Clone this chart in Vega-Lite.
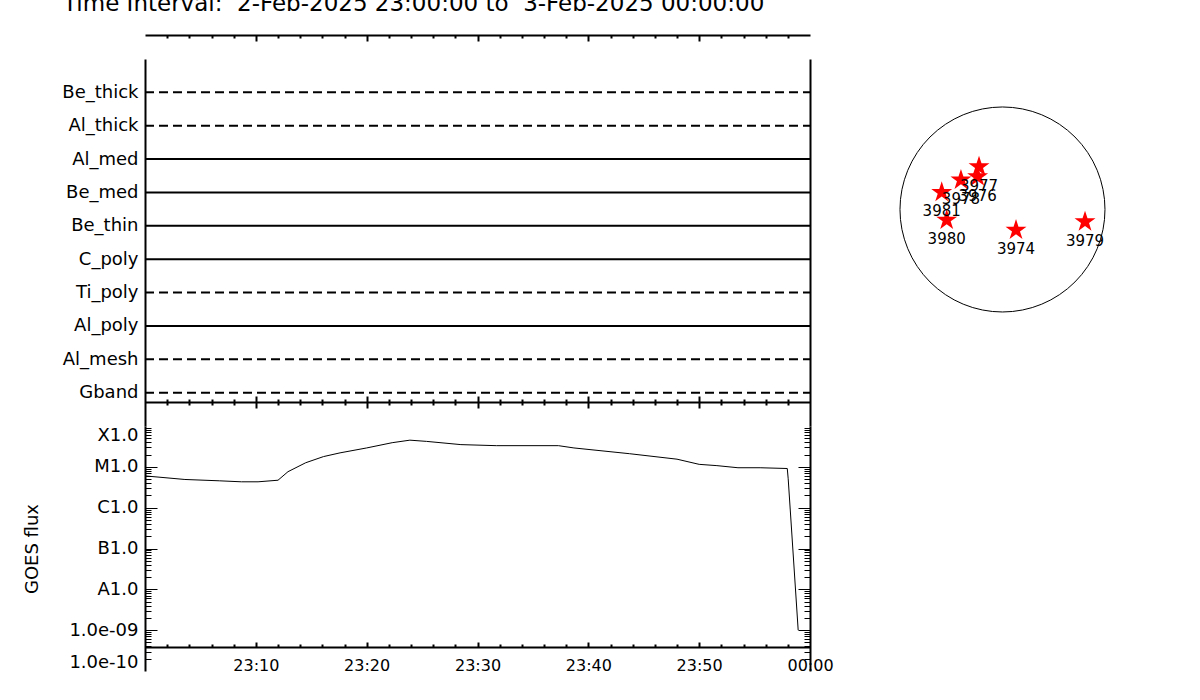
{
  "$schema": "https://vega.github.io/schema/vega-lite/v6.json",
  "background": "white",
  "width": 1200,
  "height": 700,
  "autosize": {"type": "fit", "contains": "padding"},
  "padding": {"left": 0, "right": 0, "top": 5, "bottom": 0},
  "title": {"text": "Time Interval:\u00a0 2-Feb-2025 23:00:00 to\u00a0 3-Feb-2025 00:00:00", "anchor": "start", "frame": "group", "fontSize": 23, "font": "DejaVu Sans", "fontWeight": "normal", "color": "black", "baseline": "alphabetic", "offset": 0, "dx": 63},
  "config": {
    "view": {"stroke": null},
    "font": "DejaVu Sans",
    "axis": {"labelColor": "black", "titleColor": "black", "tickColor": "black", "domainColor": "black", "domainWidth": 2, "grid": false, "labelFont": "DejaVu Sans", "titleFont": "DejaVu Sans", "titleFontWeight": "normal", "tickWidth": 2}
  },
  "datasets": {
    "filters": [
      {"filter": "Be_thick", "line": "dashed", "start": "2025-02-02T23:00:00", "end": "2025-02-03T00:00:00"},
      {"filter": "Al_thick", "line": "dashed", "start": "2025-02-02T23:00:00", "end": "2025-02-03T00:00:00"},
      {"filter": "Al_med", "line": "solid", "start": "2025-02-02T23:00:00", "end": "2025-02-03T00:00:00"},
      {"filter": "Be_med", "line": "solid", "start": "2025-02-02T23:00:00", "end": "2025-02-03T00:00:00"},
      {"filter": "Be_thin", "line": "solid", "start": "2025-02-02T23:00:00", "end": "2025-02-03T00:00:00"},
      {"filter": "C_poly", "line": "solid", "start": "2025-02-02T23:00:00", "end": "2025-02-03T00:00:00"},
      {"filter": "Ti_poly", "line": "dashed", "start": "2025-02-02T23:00:00", "end": "2025-02-03T00:00:00"},
      {"filter": "Al_poly", "line": "solid", "start": "2025-02-02T23:00:00", "end": "2025-02-03T00:00:00"},
      {"filter": "Al_mesh", "line": "dashed", "start": "2025-02-02T23:00:00", "end": "2025-02-03T00:00:00"},
      {"filter": "Gband", "line": "dashed", "start": "2025-02-02T23:00:00", "end": "2025-02-03T00:00:00"}
    ],
    "goes": [
      {"time": "2025-02-02T23:00:00", "flux": 6.0e-6},
      {"time": "2025-02-02T23:03:36", "flux": 4.9e-6},
      {"time": "2025-02-02T23:06:42", "flux": 4.55e-6},
      {"time": "2025-02-02T23:08:42", "flux": 4.3e-6},
      {"time": "2025-02-02T23:10:12", "flux": 4.3e-6},
      {"time": "2025-02-02T23:12:00", "flux": 4.7e-6},
      {"time": "2025-02-02T23:12:54", "flux": 7.6e-6},
      {"time": "2025-02-02T23:14:30", "flux": 1.26e-5},
      {"time": "2025-02-02T23:16:06", "flux": 1.78e-5},
      {"time": "2025-02-02T23:17:36", "flux": 2.2e-5},
      {"time": "2025-02-02T23:20:00", "flux": 2.9e-5},
      {"time": "2025-02-02T23:22:18", "flux": 3.9e-5},
      {"time": "2025-02-02T23:23:54", "flux": 4.5e-5},
      {"time": "2025-02-02T23:25:24", "flux": 4.2e-5},
      {"time": "2025-02-02T23:28:30", "flux": 3.5e-5},
      {"time": "2025-02-02T23:31:42", "flux": 3.3e-5},
      {"time": "2025-02-02T23:37:18", "flux": 3.3e-5},
      {"time": "2025-02-02T23:38:42", "flux": 2.9e-5},
      {"time": "2025-02-02T23:43:42", "flux": 2.1e-5},
      {"time": "2025-02-02T23:48:00", "flux": 1.54e-5},
      {"time": "2025-02-02T23:50:00", "flux": 1.15e-5},
      {"time": "2025-02-02T23:51:36", "flux": 1.07e-5},
      {"time": "2025-02-02T23:53:30", "flux": 9.5e-6},
      {"time": "2025-02-02T23:55:30", "flux": 9.5e-6},
      {"time": "2025-02-02T23:57:57", "flux": 9.1e-6},
      {"time": "2025-02-02T23:58:02", "flux": 5.1e-6},
      {"time": "2025-02-02T23:58:56", "flux": 1.0e-9}
    ],
    "regions": [
      {"noaa": "3977", "x": -222, "y": 415},
      {"noaa": "3976", "x": -235, "y": 320},
      {"noaa": "3978", "x": -393, "y": 289},
      {"noaa": "3981", "x": -575, "y": 172},
      {"noaa": "3980", "x": -528, "y": -90},
      {"noaa": "3974", "x": 128, "y": -185},
      {"noaa": "3979", "x": 781, "y": -106}
    ],
    "disk": [{"x": 0, "y": 0}]
  },
  "resolve": {"scale": {"x": "independent", "y": "independent", "strokeDash": "independent"}, "axis": {"x": "independent", "y": "independent"}},
  "layer": [
    {
      "data": {"name": "filters"},
      "mark": {"type": "rule", "strokeWidth": 2, "color": "black"},
      "encoding": {
        "y": {"field": "filter", "type": "nominal", "sort": null, "scale": {"type": "point", "padding": 1, "range": [13, 380]}, "axis": {"orient": "left", "offset": -145, "title": null, "ticks": false, "domain": true, "labelFontSize": 18, "labelPadding": 7}},
        "x": {"field": "start", "type": "temporal", "scale": {"domain": [{"year": 2025, "month": 2, "date": 2, "hours": 23, "minutes": 0}, {"year": 2025, "month": 2, "date": 3, "hours": 0, "minutes": 0}], "range": [145, 810]}, "axis": {"orient": "bottom", "offset": -665, "title": null, "labels": false, "domain": true, "tickSize": 6,
          "values": [{"year": 2025, "month": 2, "date": 2, "hours": 23, "minutes": 10}, {"year": 2025, "month": 2, "date": 2, "hours": 23, "minutes": 20}, {"year": 2025, "month": 2, "date": 2, "hours": 23, "minutes": 30}, {"year": 2025, "month": 2, "date": 2, "hours": 23, "minutes": 40}, {"year": 2025, "month": 2, "date": 2, "hours": 23, "minutes": 50}]}},
        "x2": {"field": "end"},
        "strokeDash": {"field": "line", "type": "nominal", "scale": {"domain": ["solid", "dashed"], "range": [[1, 0], [9, 5]]}, "legend": null}
      }
    },
    {
      "data": {"name": "filters"},
      "mark": {"type": "rule", "opacity": 0},
      "encoding": {
        "y": {"field": "filter", "type": "nominal", "sort": null, "scale": {"type": "point", "padding": 1, "range": [13, 380]}, "axis": {"orient": "right", "offset": -390, "title": null, "ticks": false, "labels": false, "domain": true}},
        "x": {"field": "start", "type": "temporal", "scale": {"domain": [{"year": 2025, "month": 2, "date": 2, "hours": 23, "minutes": 0}, {"year": 2025, "month": 2, "date": 3, "hours": 0, "minutes": 0}], "range": [145, 810]}, "axis": {"orient": "bottom", "offset": -665, "title": null, "labels": false, "domain": false, "tickSize": 3,
          "values": [{"year": 2025, "month": 2, "date": 2, "hours": 23, "minutes": 2}, {"year": 2025, "month": 2, "date": 2, "hours": 23, "minutes": 4}, {"year": 2025, "month": 2, "date": 2, "hours": 23, "minutes": 6}, {"year": 2025, "month": 2, "date": 2, "hours": 23, "minutes": 8}, {"year": 2025, "month": 2, "date": 2, "hours": 23, "minutes": 12}, {"year": 2025, "month": 2, "date": 2, "hours": 23, "minutes": 14}, {"year": 2025, "month": 2, "date": 2, "hours": 23, "minutes": 16}, {"year": 2025, "month": 2, "date": 2, "hours": 23, "minutes": 18}, {"year": 2025, "month": 2, "date": 2, "hours": 23, "minutes": 22}, {"year": 2025, "month": 2, "date": 2, "hours": 23, "minutes": 24}, {"year": 2025, "month": 2, "date": 2, "hours": 23, "minutes": 26}, {"year": 2025, "month": 2, "date": 2, "hours": 23, "minutes": 28}, {"year": 2025, "month": 2, "date": 2, "hours": 23, "minutes": 32}, {"year": 2025, "month": 2, "date": 2, "hours": 23, "minutes": 34}, {"year": 2025, "month": 2, "date": 2, "hours": 23, "minutes": 36}, {"year": 2025, "month": 2, "date": 2, "hours": 23, "minutes": 38}, {"year": 2025, "month": 2, "date": 2, "hours": 23, "minutes": 42}, {"year": 2025, "month": 2, "date": 2, "hours": 23, "minutes": 44}, {"year": 2025, "month": 2, "date": 2, "hours": 23, "minutes": 46}, {"year": 2025, "month": 2, "date": 2, "hours": 23, "minutes": 48}, {"year": 2025, "month": 2, "date": 2, "hours": 23, "minutes": 52}, {"year": 2025, "month": 2, "date": 2, "hours": 23, "minutes": 54}, {"year": 2025, "month": 2, "date": 2, "hours": 23, "minutes": 56}, {"year": 2025, "month": 2, "date": 2, "hours": 23, "minutes": 58}]}},
        "x2": {"field": "end"}
      }
    },
    {
      "data": {"name": "filters"},
      "mark": {"type": "rule", "opacity": 0},
      "encoding": {
        "x": {"field": "start", "type": "temporal", "scale": {"domain": [{"year": 2025, "month": 2, "date": 2, "hours": 23, "minutes": 0}, {"year": 2025, "month": 2, "date": 3, "hours": 0, "minutes": 0}], "range": [145, 810]}, "axis": {"orient": "bottom", "offset": -304, "title": null, "labels": false, "domain": false, "tickSize": 6,
          "values": [{"year": 2025, "month": 2, "date": 2, "hours": 23, "minutes": 10}, {"year": 2025, "month": 2, "date": 2, "hours": 23, "minutes": 20}, {"year": 2025, "month": 2, "date": 2, "hours": 23, "minutes": 30}, {"year": 2025, "month": 2, "date": 2, "hours": 23, "minutes": 40}, {"year": 2025, "month": 2, "date": 2, "hours": 23, "minutes": 50}]}}
      }
    },
    {
      "data": {"name": "filters"},
      "mark": {"type": "rule", "opacity": 0},
      "encoding": {
        "x": {"field": "start", "type": "temporal", "scale": {"domain": [{"year": 2025, "month": 2, "date": 2, "hours": 23, "minutes": 0}, {"year": 2025, "month": 2, "date": 3, "hours": 0, "minutes": 0}], "range": [145, 810]}, "axis": {"orient": "bottom", "offset": -301, "title": null, "labels": false, "domain": false, "tickSize": 3,
          "values": [{"year": 2025, "month": 2, "date": 2, "hours": 23, "minutes": 2}, {"year": 2025, "month": 2, "date": 2, "hours": 23, "minutes": 4}, {"year": 2025, "month": 2, "date": 2, "hours": 23, "minutes": 6}, {"year": 2025, "month": 2, "date": 2, "hours": 23, "minutes": 8}, {"year": 2025, "month": 2, "date": 2, "hours": 23, "minutes": 12}, {"year": 2025, "month": 2, "date": 2, "hours": 23, "minutes": 14}, {"year": 2025, "month": 2, "date": 2, "hours": 23, "minutes": 16}, {"year": 2025, "month": 2, "date": 2, "hours": 23, "minutes": 18}, {"year": 2025, "month": 2, "date": 2, "hours": 23, "minutes": 22}, {"year": 2025, "month": 2, "date": 2, "hours": 23, "minutes": 24}, {"year": 2025, "month": 2, "date": 2, "hours": 23, "minutes": 26}, {"year": 2025, "month": 2, "date": 2, "hours": 23, "minutes": 28}, {"year": 2025, "month": 2, "date": 2, "hours": 23, "minutes": 32}, {"year": 2025, "month": 2, "date": 2, "hours": 23, "minutes": 34}, {"year": 2025, "month": 2, "date": 2, "hours": 23, "minutes": 36}, {"year": 2025, "month": 2, "date": 2, "hours": 23, "minutes": 38}, {"year": 2025, "month": 2, "date": 2, "hours": 23, "minutes": 42}, {"year": 2025, "month": 2, "date": 2, "hours": 23, "minutes": 44}, {"year": 2025, "month": 2, "date": 2, "hours": 23, "minutes": 46}, {"year": 2025, "month": 2, "date": 2, "hours": 23, "minutes": 48}, {"year": 2025, "month": 2, "date": 2, "hours": 23, "minutes": 52}, {"year": 2025, "month": 2, "date": 2, "hours": 23, "minutes": 54}, {"year": 2025, "month": 2, "date": 2, "hours": 23, "minutes": 56}, {"year": 2025, "month": 2, "date": 2, "hours": 23, "minutes": 58}]}}
      }
    },
    {
      "data": {"name": "filters"},
      "mark": {"type": "rule", "opacity": 0},
      "encoding": {
        "x": {"field": "start", "type": "temporal", "scale": {"domain": [{"year": 2025, "month": 2, "date": 2, "hours": 23, "minutes": 0}, {"year": 2025, "month": 2, "date": 3, "hours": 0, "minutes": 0}], "range": [145, 810]}, "axis": {"orient": "bottom", "offset": -298, "title": null, "labels": false, "domain": true, "tickSize": 6,
          "values": [{"year": 2025, "month": 2, "date": 2, "hours": 23, "minutes": 10}, {"year": 2025, "month": 2, "date": 2, "hours": 23, "minutes": 20}, {"year": 2025, "month": 2, "date": 2, "hours": 23, "minutes": 30}, {"year": 2025, "month": 2, "date": 2, "hours": 23, "minutes": 40}, {"year": 2025, "month": 2, "date": 2, "hours": 23, "minutes": 50}]}}
      }
    },
    {
      "data": {"name": "filters"},
      "mark": {"type": "rule", "opacity": 0},
      "encoding": {
        "x": {"field": "start", "type": "temporal", "scale": {"domain": [{"year": 2025, "month": 2, "date": 2, "hours": 23, "minutes": 0}, {"year": 2025, "month": 2, "date": 3, "hours": 0, "minutes": 0}], "range": [145, 810]}, "axis": {"orient": "bottom", "offset": -298, "title": null, "labels": false, "domain": false, "tickSize": 3,
          "values": [{"year": 2025, "month": 2, "date": 2, "hours": 23, "minutes": 2}, {"year": 2025, "month": 2, "date": 2, "hours": 23, "minutes": 4}, {"year": 2025, "month": 2, "date": 2, "hours": 23, "minutes": 6}, {"year": 2025, "month": 2, "date": 2, "hours": 23, "minutes": 8}, {"year": 2025, "month": 2, "date": 2, "hours": 23, "minutes": 12}, {"year": 2025, "month": 2, "date": 2, "hours": 23, "minutes": 14}, {"year": 2025, "month": 2, "date": 2, "hours": 23, "minutes": 16}, {"year": 2025, "month": 2, "date": 2, "hours": 23, "minutes": 18}, {"year": 2025, "month": 2, "date": 2, "hours": 23, "minutes": 22}, {"year": 2025, "month": 2, "date": 2, "hours": 23, "minutes": 24}, {"year": 2025, "month": 2, "date": 2, "hours": 23, "minutes": 26}, {"year": 2025, "month": 2, "date": 2, "hours": 23, "minutes": 28}, {"year": 2025, "month": 2, "date": 2, "hours": 23, "minutes": 32}, {"year": 2025, "month": 2, "date": 2, "hours": 23, "minutes": 34}, {"year": 2025, "month": 2, "date": 2, "hours": 23, "minutes": 36}, {"year": 2025, "month": 2, "date": 2, "hours": 23, "minutes": 38}, {"year": 2025, "month": 2, "date": 2, "hours": 23, "minutes": 42}, {"year": 2025, "month": 2, "date": 2, "hours": 23, "minutes": 44}, {"year": 2025, "month": 2, "date": 2, "hours": 23, "minutes": 46}, {"year": 2025, "month": 2, "date": 2, "hours": 23, "minutes": 48}, {"year": 2025, "month": 2, "date": 2, "hours": 23, "minutes": 52}, {"year": 2025, "month": 2, "date": 2, "hours": 23, "minutes": 54}, {"year": 2025, "month": 2, "date": 2, "hours": 23, "minutes": 56}, {"year": 2025, "month": 2, "date": 2, "hours": 23, "minutes": 58}]}}
      }
    },
    {
      "data": {"name": "goes"},
      "mark": {"type": "line", "color": "black", "strokeWidth": 1},
      "encoding": {
        "x": {"field": "time", "type": "temporal", "scale": {"domain": [{"year": 2025, "month": 2, "date": 2, "hours": 23, "minutes": 0}, {"year": 2025, "month": 2, "date": 3, "hours": 0, "minutes": 0}], "range": [145, 810]}, "axis": {"orient": "bottom", "offset": -53, "title": null, "domain": true, "ticks": false, "format": "%H:%M", "labelFlush": false, "labelOverlap": false, "labelBound": false, "labelFontSize": 16, "labelPadding": 10,
          "values": [{"year": 2025, "month": 2, "date": 2, "hours": 23, "minutes": 10}, {"year": 2025, "month": 2, "date": 2, "hours": 23, "minutes": 20}, {"year": 2025, "month": 2, "date": 2, "hours": 23, "minutes": 30}, {"year": 2025, "month": 2, "date": 2, "hours": 23, "minutes": 40}, {"year": 2025, "month": 2, "date": 2, "hours": 23, "minutes": 50}, {"year": 2025, "month": 2, "date": 3, "hours": 0, "minutes": 0}]}},
        "y": {"field": "flux", "type": "quantitative", "scale": {"type": "log", "domain": [1e-10, 1e-4], "range": [625, 380], "nice": false}, "axis": {"orient": "left", "offset": -145, "domain": true, "ticks": false, "title": "GOES flux", "titleFontSize": 18, "titleX": -104, "titleY": 502.5, "titleAngle": 270, "titleBaseline": "bottom", "titleAlign": "center", "labelFontSize": 18, "labelPadding": 7, "labelFlush": true, "labelOverlap": false,
          "values": [1e-10, 1e-9, 1e-8, 1e-7, 1e-6, 1e-5, 1e-4],
          "labelExpr": "datum.value > 5e-5 ? 'X1.0' : datum.value > 5e-6 ? 'M1.0' : datum.value > 5e-7 ? 'C1.0' : datum.value > 5e-8 ? 'B1.0' : datum.value > 5e-9 ? 'A1.0' : datum.value > 5e-10 ? '1.0e-09' : '1.0e-10'"}}
      }
    },
    {
      "data": {"name": "goes"},
      "mark": {"type": "line", "opacity": 0},
      "encoding": {
        "x": {"field": "time", "type": "temporal", "scale": {"domain": [{"year": 2025, "month": 2, "date": 2, "hours": 23, "minutes": 0}, {"year": 2025, "month": 2, "date": 3, "hours": 0, "minutes": 0}], "range": [145, 810]}, "axis": {"orient": "bottom", "offset": -58, "title": null, "labels": false, "domain": false, "tickSize": 5,
          "values": [{"year": 2025, "month": 2, "date": 2, "hours": 23, "minutes": 10}, {"year": 2025, "month": 2, "date": 2, "hours": 23, "minutes": 20}, {"year": 2025, "month": 2, "date": 2, "hours": 23, "minutes": 30}, {"year": 2025, "month": 2, "date": 2, "hours": 23, "minutes": 40}, {"year": 2025, "month": 2, "date": 2, "hours": 23, "minutes": 50}]}},
        "y": {"field": "flux", "type": "quantitative", "scale": {"type": "log", "domain": [1e-10, 1e-4], "range": [625, 380], "nice": false}, "axis": {"orient": "left", "offset": -157, "title": null, "labels": false, "domain": false, "tickSize": 12, "tickWidth": 1, "values": [1e-9, 1e-8, 1e-7, 1e-6, 1e-5]}}
      }
    },
    {
      "data": {"name": "goes"},
      "mark": {"type": "line", "opacity": 0},
      "encoding": {
        "x": {"field": "time", "type": "temporal", "scale": {"domain": [{"year": 2025, "month": 2, "date": 2, "hours": 23, "minutes": 0}, {"year": 2025, "month": 2, "date": 3, "hours": 0, "minutes": 0}], "range": [145, 810]}, "axis": {"orient": "bottom", "offset": -56, "title": null, "labels": false, "domain": false, "tickSize": 3,
          "values": [{"year": 2025, "month": 2, "date": 2, "hours": 23, "minutes": 2}, {"year": 2025, "month": 2, "date": 2, "hours": 23, "minutes": 4}, {"year": 2025, "month": 2, "date": 2, "hours": 23, "minutes": 6}, {"year": 2025, "month": 2, "date": 2, "hours": 23, "minutes": 8}, {"year": 2025, "month": 2, "date": 2, "hours": 23, "minutes": 12}, {"year": 2025, "month": 2, "date": 2, "hours": 23, "minutes": 14}, {"year": 2025, "month": 2, "date": 2, "hours": 23, "minutes": 16}, {"year": 2025, "month": 2, "date": 2, "hours": 23, "minutes": 18}, {"year": 2025, "month": 2, "date": 2, "hours": 23, "minutes": 22}, {"year": 2025, "month": 2, "date": 2, "hours": 23, "minutes": 24}, {"year": 2025, "month": 2, "date": 2, "hours": 23, "minutes": 26}, {"year": 2025, "month": 2, "date": 2, "hours": 23, "minutes": 28}, {"year": 2025, "month": 2, "date": 2, "hours": 23, "minutes": 32}, {"year": 2025, "month": 2, "date": 2, "hours": 23, "minutes": 34}, {"year": 2025, "month": 2, "date": 2, "hours": 23, "minutes": 36}, {"year": 2025, "month": 2, "date": 2, "hours": 23, "minutes": 38}, {"year": 2025, "month": 2, "date": 2, "hours": 23, "minutes": 42}, {"year": 2025, "month": 2, "date": 2, "hours": 23, "minutes": 44}, {"year": 2025, "month": 2, "date": 2, "hours": 23, "minutes": 46}, {"year": 2025, "month": 2, "date": 2, "hours": 23, "minutes": 48}, {"year": 2025, "month": 2, "date": 2, "hours": 23, "minutes": 52}, {"year": 2025, "month": 2, "date": 2, "hours": 23, "minutes": 54}, {"year": 2025, "month": 2, "date": 2, "hours": 23, "minutes": 56}, {"year": 2025, "month": 2, "date": 2, "hours": 23, "minutes": 58}]}},
        "y": {"field": "flux", "type": "quantitative", "scale": {"type": "log", "domain": [1e-10, 1e-4], "range": [625, 380], "nice": false}, "axis": {"orient": "left", "offset": -151, "title": null, "labels": false, "domain": false, "tickSize": 6, "tickWidth": 1,
          "values": [2e-10, 3e-10, 4e-10, 5e-10, 6e-10, 7e-10, 8e-10, 9e-10, 2e-9, 3e-9, 4e-9, 5e-9, 6e-9, 7e-9, 8e-9, 9e-9, 2e-8, 3e-8, 4e-8, 5e-8, 6e-8, 7e-8, 8e-8, 9e-8, 2e-7, 3e-7, 4e-7, 5e-7, 6e-7, 7e-7, 8e-7, 9e-7, 2e-6, 3e-6, 4e-6, 5e-6, 6e-6, 7e-6, 8e-6, 9e-6, 2e-5, 3e-5, 4e-5, 5e-5, 6e-5, 7e-5, 8e-5, 9e-5]}}
      }
    },
    {
      "data": {"name": "goes"},
      "mark": {"type": "line", "opacity": 0},
      "encoding": {
        "x": {"field": "time", "type": "temporal", "scale": {"domain": [{"year": 2025, "month": 2, "date": 2, "hours": 23, "minutes": 0}, {"year": 2025, "month": 2, "date": 3, "hours": 0, "minutes": 0}], "range": [145, 810]}, "axis": null},
        "y": {"field": "flux", "type": "quantitative", "scale": {"type": "log", "domain": [1e-10, 1e-4], "range": [625, 380], "nice": false}, "axis": {"orient": "right", "offset": -402, "title": null, "labels": false, "domain": false, "tickSize": 12, "tickWidth": 1, "values": [1e-9, 1e-8, 1e-7, 1e-6, 1e-5]}}
      }
    },
    {
      "data": {"name": "goes"},
      "mark": {"type": "line", "opacity": 0},
      "encoding": {
        "x": {"field": "time", "type": "temporal", "scale": {"domain": [{"year": 2025, "month": 2, "date": 2, "hours": 23, "minutes": 0}, {"year": 2025, "month": 2, "date": 3, "hours": 0, "minutes": 0}], "range": [145, 810]}, "axis": null},
        "y": {"field": "flux", "type": "quantitative", "scale": {"type": "log", "domain": [1e-10, 1e-4], "range": [625, 380], "nice": false}, "axis": {"orient": "right", "offset": -396, "title": null, "labels": false, "domain": false, "tickSize": 6, "tickWidth": 1,
          "values": [2e-10, 3e-10, 4e-10, 5e-10, 6e-10, 7e-10, 8e-10, 9e-10, 2e-9, 3e-9, 4e-9, 5e-9, 6e-9, 7e-9, 8e-9, 9e-9, 2e-8, 3e-8, 4e-8, 5e-8, 6e-8, 7e-8, 8e-8, 9e-8, 2e-7, 3e-7, 4e-7, 5e-7, 6e-7, 7e-7, 8e-7, 9e-7, 2e-6, 3e-6, 4e-6, 5e-6, 6e-6, 7e-6, 8e-6, 9e-6, 2e-5, 3e-5, 4e-5, 5e-5, 6e-5, 7e-5, 8e-5, 9e-5]}}
      }
    },
    {
      "data": {"name": "goes"},
      "mark": {"type": "line", "opacity": 0},
      "encoding": {
        "x": {"field": "time", "type": "temporal", "scale": {"domain": [{"year": 2025, "month": 2, "date": 2, "hours": 23, "minutes": 0}, {"year": 2025, "month": 2, "date": 3, "hours": 0, "minutes": 0}], "range": [145, 810]}, "axis": null},
        "y": {"field": "flux", "type": "quantitative", "scale": {"type": "log", "domain": [1e-10, 1e-4], "range": [625, 380], "nice": false}, "axis": {"orient": "right", "offset": -390, "title": null, "labels": false, "ticks": false, "domain": true}}
      }
    },
    {
      "data": {"name": "disk"},
      "mark": {"type": "point", "shape": "circle", "size": 42025, "filled": false, "stroke": "black", "strokeWidth": 1, "opacity": 1},
      "encoding": {
        "x": {"field": "x", "type": "quantitative", "scale": {"domain": [-1159, 1112], "range": [880, 1120], "nice": false, "zero": false}, "axis": null},
        "y": {"field": "y", "type": "quantitative", "scale": {"domain": [-2049, 1424], "range": [380, 13], "nice": false, "zero": false}, "axis": null}
      }
    },
    {
      "data": {"name": "regions"},
      "mark": {"type": "point", "shape": "M0,-0.9045L0.2245,-0.2135L0.951,-0.2135L0.363,0.2135L0.588,0.9045L0,0.4775L-0.588,0.9045L-0.363,0.2135L-0.951,-0.2135L-0.2245,-0.2135Z", "size": 484, "filled": true, "color": "#ff0000", "opacity": 1},
      "encoding": {
        "x": {"field": "x", "type": "quantitative", "scale": {"domain": [-1159, 1112], "range": [880, 1120], "nice": false, "zero": false}, "axis": null},
        "y": {"field": "y", "type": "quantitative", "scale": {"domain": [-2049, 1424], "range": [380, 13], "nice": false, "zero": false}, "axis": null}
      }
    },
    {
      "data": {"name": "regions"},
      "mark": {"type": "text", "dy": 20, "fontSize": 15, "color": "black", "baseline": "middle", "align": "center"},
      "encoding": {
        "x": {"field": "x", "type": "quantitative", "scale": {"domain": [-1159, 1112], "range": [880, 1120], "nice": false, "zero": false}, "axis": null},
        "y": {"field": "y", "type": "quantitative", "scale": {"domain": [-2049, 1424], "range": [380, 13], "nice": false, "zero": false}, "axis": null},
        "text": {"field": "noaa"}
      }
    }
  ]
}
